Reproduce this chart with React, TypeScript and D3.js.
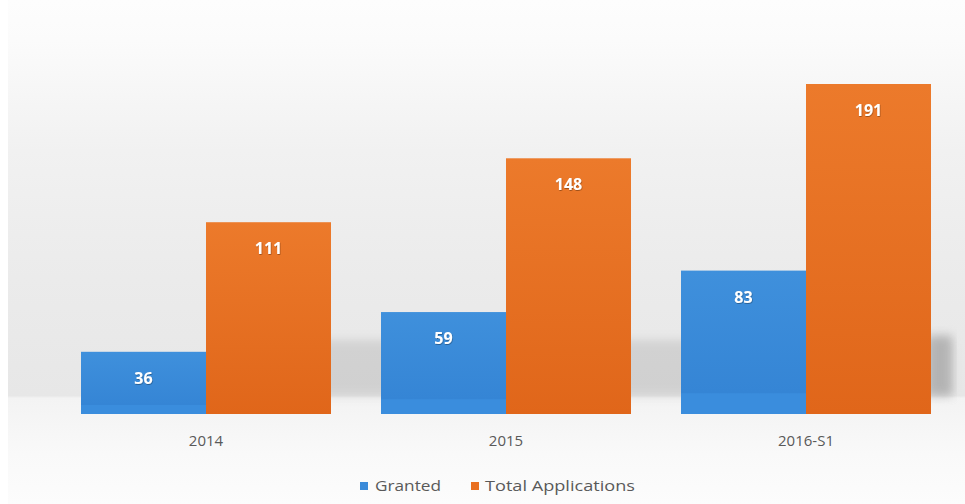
import React from "react";
import * as d3 from "d3";

const categories = ["2014", "2015", "2016-S1"];
const seriesNames = ["Granted", "Total Applications"];
const granted = [36, 59, 83];
const totalApplications = [111, 148, 191];
const seriesColors = ["#3b8bd9", "#e96f1f"];

const W = 965;
const H = 504;
const baseY = 414;

export default function App() {
  const x0 = d3
    .scaleBand<string>()
    .domain(categories)
    .range([56, 956])
    .paddingInner(1 / 6)
    .paddingOuter(1 / 12);
  const x1 = d3
    .scaleBand<string>()
    .domain(seriesNames)
    .range([0, x0.bandwidth()])
    .padding(0);
  const y = d3.scaleLinear().domain([0, 191]).range([baseY, 84]);

  const values = [granted, totalApplications];
  const font = "'Open Sans', 'DejaVu Sans', sans-serif";

  return (
    <svg
      width={W}
      height={H}
      style={{ position: "absolute", left: 0, top: 0, display: "block" }}
    >
      <defs>
        <linearGradient id="bg" x1="0" y1="0" x2="0" y2="1">
          <stop offset="0" stopColor="#fdfdfd" />
          <stop offset="0.08" stopColor="#fbfbfb" />
          <stop offset="0.3" stopColor="#f1f1f1" />
          <stop offset="0.55" stopColor="#ebebeb" />
          <stop offset="0.785" stopColor="#e7e7e7" />
          <stop offset="0.79" stopColor="#f3f3f3" />
          <stop offset="0.9" stopColor="#f9f9f9" />
          <stop offset="1" stopColor="#fcfcfc" />
        </linearGradient>
        <linearGradient id="g0" x1="0" y1="0" x2="0" y2="1">
          <stop offset="0" stopColor="#3f90dc" />
          <stop offset="0.85" stopColor="#3585d5" />
          <stop offset="0.86" stopColor="#3a8ddd" />
          <stop offset="1" stopColor="#3a8ddd" />
        </linearGradient>
        <linearGradient id="g1" x1="0" y1="0" x2="0" y2="1">
          <stop offset="0" stopColor="#ec7a2b" />
          <stop offset="1" stopColor="#e0661a" />
        </linearGradient>
        <filter id="blur" x="-20%" y="-50%" width="140%" height="200%">
          <feGaussianBlur stdDeviation="5" />
        </filter>
        <filter id="ts" x="-20%" y="-20%" width="140%" height="140%">
          <feDropShadow dx="0.5" dy="0.8" stdDeviation="0.6" floodColor="#000" floodOpacity="0.4" />
        </filter>
      </defs>
      <rect x={0} y={0} width={W} height={H} fill="#ffffff" />
      <rect x={8} y={0} width={W - 8} height={H} fill="url(#bg)" />
      <rect
        x={320}
        y={340}
        width={632}
        height={56}
        fill="#a8a8a8"
        opacity={0.35}
        filter="url(#blur)"
      />
      <rect
        x={928}
        y={335}
        width={24}
        height={60}
        fill="#a0a0a0"
        opacity={0.6}
        filter="url(#blur)"
      />
      {categories.map((c, i) => (
        <g key={c} transform={`translate(${x0(c)},0)`}>
          {seriesNames.map((s, j) => {
            const v = values[j][i];
            const bx = x1(s) as number;
            const bw = x1.bandwidth();
            return (
              <g key={s}>
                <rect
                  x={bx}
                  y={y(v)}
                  width={bw}
                  height={baseY - y(v)}
                  fill={`url(#g${j})`}
                />
                <text
                  x={bx + bw / 2}
                  y={y(v) + 32}
                  textAnchor="middle"
                  fill="#ffffff"
                  fontFamily={font}
                  fontWeight="bold"
                  fontSize={16}
                  filter="url(#ts)"
                >
                  {v}
                </text>
              </g>
            );
          })}
          <text
            x={x0.bandwidth() / 2}
            y={446}
            textAnchor="middle"
            fill="#595959"
            fontFamily={font}
            fontSize={15}
          >
            {c}
          </text>
        </g>
      ))}
      <g fontFamily={font} fontSize={15} fill="#595959">
        <rect x={360} y={482} width={8} height={8} fill={seriesColors[0]} />
        <text x={375} y={491} textLength={66} lengthAdjust="spacingAndGlyphs">
          {seriesNames[0]}
        </text>
        <rect x={471} y={482} width={8} height={8} fill={seriesColors[1]} />
        <text x={485} y={491} textLength={150} lengthAdjust="spacingAndGlyphs">
          {seriesNames[1]}
        </text>
      </g>
    </svg>
  );
}
